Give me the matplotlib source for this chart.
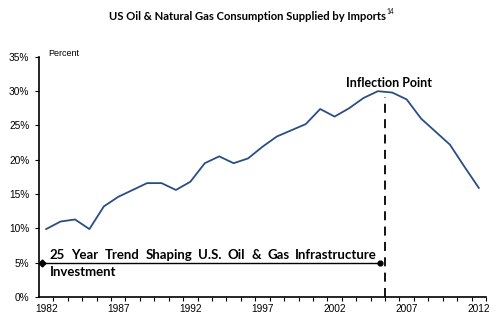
import matplotlib
matplotlib.use("Agg")
import matplotlib.pyplot as plt
import numpy as np

# data
years = list(range(1982, 2013))
import_share = [9.9, 11.0, 11.3, 9.9, 13.2, 14.6, 15.6, 16.6, 16.6, 15.6,
                16.8, 19.5, 20.5, 19.5, 20.2, 21.9, 23.4, 24.3, 25.2, 27.4,
                26.3, 27.5, 29.0, 30.0, 29.8, 28.8, 26.0, 24.1, 22.2, 19.0, 15.9]
tick_years = [1982, 1987, 1992, 1997, 2002, 2007, 2012]
y_ticks = [0, 5, 10, 15, 20, 25, 30, 35]

trend_words = ["25", "Year", "Trend", "Shaping", "U.S.", "Oil", "&", "Gas", "Infrastructure"]

line_color = "#2A4E84"
bold_font = "Lato"
tick_font = "Liberation Sans"

fig = plt.figure(figsize=(4.99, 3.21), dpi=100)
ax = fig.add_axes([0.078, 0.0748, 0.896, 0.748])

x = np.arange(len(years))
ax.plot(x, import_share, color=line_color, lw=1.3, solid_joinstyle="round")

ax.set_xlim(-0.5, len(years) - 0.5)
ax.set_ylim(0, 35)

# category axis: labels at centres, tick marks on the boundaries
ax.set_xticks([years.index(y) for y in tick_years])
ax.set_xticklabels([str(y) for y in tick_years], fontfamily=tick_font, fontsize=7.3)
ax.set_xticks(np.arange(0.5, len(years) - 0.5 + 0.01, 1), minor=True)
ax.tick_params(axis="x", which="major", length=0, pad=5)
ax.tick_params(axis="x", which="minor", length=3, width=0.8, direction="out")

ax.set_yticks(y_ticks)
ax.set_yticklabels([f"{v}%" for v in y_ticks], fontfamily=tick_font, fontsize=7.3)
ax.tick_params(axis="y", length=3, width=0.8, direction="out", pad=4)

for side in ["top", "right"]:
    ax.spines[side].set_visible(False)
for side in ["left", "bottom"]:
    ax.spines[side].set_linewidth(1.2)

fig.text(0.096, 0.824, "Percent", fontfamily=tick_font, fontsize=6.5)

title = fig.text(0.495, 0.938, "US Oil & Natural Gas Consumption Supplied by Imports",
                 ha="center", fontfamily=bold_font, fontweight="bold", fontsize=8.1)

# inflection marker
split = years.index(2005) + 0.5
ax.plot([split, split], [0, 29.2], color="black", lw=1.3, ls=(0, (5, 3.5)))
ax.text(split + 0.25, 30.6, "Inflection Point", ha="center", va="baseline",
        fontfamily=bold_font, fontweight="bold", fontsize=9)

# 25 year bracket
ax.plot([-0.27, 23.17], [5, 5], color="black", lw=1.0)
ax.plot([-0.27], [5], marker="D", ms=3.5, color="black")
ax.plot([23.17], [5], marker="o", ms=3.5, color="black")

fig.canvas.draw()
renderer = fig.canvas.get_renderer()

# superscript footnote mark after the title
tb = title.get_window_extent(renderer)
fig.text((tb.x1 + 0.5) / fig.bbox.width, 0.955, "14", fontfamily=bold_font,
         fontsize=4.8, va="baseline")

# justified line of words
x0, x1 = 0.263, 22.94
texts = [ax.text(0, 5.55, w, fontfamily=bold_font, fontweight="bold", fontsize=9.5,
                 va="baseline") for w in trend_words]
px_per_unit = ax.transData.transform((1, 0))[0] - ax.transData.transform((0, 0))[0]
widths = [t.get_window_extent(renderer).width / px_per_unit for t in texts]
gap = (x1 - x0 - sum(widths)) / (len(widths) - 1)
pos = x0
for t, w in zip(texts, widths):
    t.set_x(pos)
    pos += w + gap

ax.text(x0, 3.05, "Investment", fontfamily=bold_font, fontweight="bold", fontsize=9.5,
        va="baseline")

fig.savefig("out.png", dpi=100)
